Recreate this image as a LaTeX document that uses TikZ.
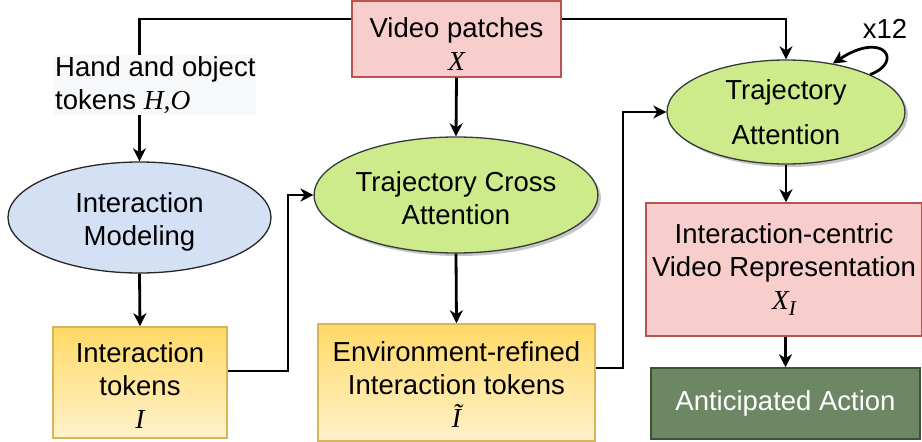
\documentclass[tikz,border=0pt]{standalone}
\usepackage{fontspec}
\setmainfont{Liberation Sans}
\newfontfamily\mserif{Liberation Serif}
\usetikzlibrary{shapes.geometric,shadows,arrows.meta}
\definecolor{pinkfill}{HTML}{F8CECC}
\definecolor{pinkline}{HTML}{B85450}
\definecolor{greenfill}{HTML}{CDEB8B}
\definecolor{greenline}{HTML}{36393D}
\definecolor{bluefill}{HTML}{D4E1F5}
\definecolor{yeltop}{HTML}{FFD966}
\definecolor{yelbot}{HTML}{FFF2CC}
\definecolor{yelline}{HTML}{D6B656}
\definecolor{dkgreen}{HTML}{6D8764}
\definecolor{dkgreenline}{HTML}{3A5431}
\definecolor{labelbg}{HTML}{F7F8FA}
\newcommand{\mi}[1]{{\mserif\itshape #1}}
\newcommand{\upr}[1]{\rule{0pt}{#1}}
\tikzset{
  txt/.style={font=\fontsize{27.5}{33}\selectfont, align=center, inner sep=0pt},
  pinkbox/.style={txt, draw=pinkline, fill=pinkfill, line width=1.5pt, rectangle},
  yelbox/.style={txt, draw=yelline, top color=yeltop, bottom color=yelbot, line width=1.5pt, rectangle},
  greenell/.style={txt, ellipse, draw=greenline, fill=greenfill, line width=1.3pt,
     drop shadow={opacity=0.45, fill=gray, shadow xshift=3pt, shadow yshift=-3pt}},
  blueell/.style={txt, ellipse, draw=black!85, fill=bluefill, line width=1.3pt},
  arr/.style={draw=black, line width=2.8pt, -{Stealth[length=13pt,width=13pt,inset=4pt]}},
}
\begin{document}
\begin{tikzpicture}[x=1pt,y=-1pt]
\useasboundingbox (0,0) rectangle (922,442);
% nodes
\node[pinkbox, minimum width=209pt, minimum height=76pt] (vp) at (456.5,39) {\upr{30pt}Video patches\\\mi{X}};
\node[greenell, minimum width=254pt, minimum height=116pt] (tca) at (456,195) {\upr{26pt}Trajectory Cross\\Attention};
\node[greenell, minimum width=238pt, minimum height=104pt] (ta) at (786,112) {Trajectory\\[12pt]Attention};
\node[blueell, minimum width=263pt, minimum height=111pt] (im) at (139.5,217.5) {\upr{28pt}Interaction\\Modeling};
\node[yelbox, minimum width=174pt, minimum height=111pt] (it) at (140,382.5) {\upr{26pt}Interaction\\tokens\\\mi{I}};
\node[yelbox, minimum width=277pt, minimum height=117pt] (env) at (456.5,382.5) {\upr{24pt}Environment-refined\\Interaction tokens\\\mi{\~{I}}};
\node[pinkbox, minimum width=276pt, minimum height=133pt] (ic) at (784,269.5) {Interaction-centric\\Video Representation\\\mi{X\raisebox{-6pt}{\fontsize{21}{21}\selectfont I}}};
\node[txt, rectangle, draw=dkgreenline, fill=dkgreen, line width=1.5pt, text=white, minimum width=269pt, minimum height=71pt] (aa) at (785.5,403.5) {Anticipated Action};
\node[txt] (x12) at (885,29) {x12};
% helper coordinates
\coordinate (c1) at (288,195);
\coordinate (c2) at (623,112);
% connectors
\draw[arr] ([yshift=20pt]vp.west) -| (im.north);
\draw[arr] ([yshift=20pt]vp.east) -| (ta.north);
\draw[arr] (vp.south) -- (tca.north);
\draw[arr] (im.south) -- (it.north);
\draw[arr] ([yshift=11.5pt]it.east) -| (c1) -- (tca.west);
\draw[arr] ([yshift=14.5pt]env.east) -| (c2) -- (ta.west);
\draw[arr] (tca.south) -- (env.north);
\draw[arr] (ta.south) -- (ta.south |- ic.north);
\draw[arr] (aa.north |- ic.south) -- (aa.north);
\draw[arr] (ta.24) .. controls (904,62) and (884,30) .. (ta.46);
% label on the line
\node[txt, align=left, anchor=west, fill=labelbg, inner xsep=1pt, inner ysep=1pt] (hol) at (54,85) {Hand and object\\tokens \mi{H,O}};
\end{tikzpicture}
\end{document}
